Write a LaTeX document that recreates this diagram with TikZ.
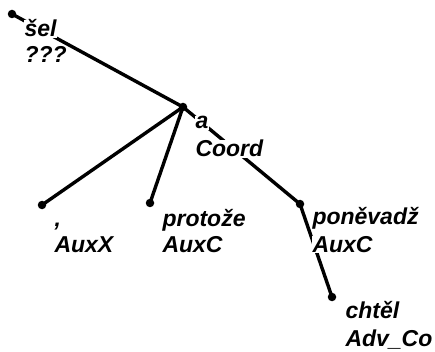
\documentclass[tikz,border=0pt]{standalone}
\usepackage{fontspec}
\setmainfont{Liberation Sans}
\begin{document}
\begin{tikzpicture}[x=1pt,y=-1pt,
  dotnode/.style={circle,fill=black,inner sep=0pt,minimum size=8.5pt},
  edge/.style={line width=3.4pt},
  rowtext/.style={anchor=base west,fill=white,inner sep=0.3pt,
    font=\fontsize{23}{27}\selectfont\bfseries\itshape}]
\useasboundingbox (0,0) rectangle (435,352);
% dots
\node[dotnode] (sel) at (12,14) {};
\node[dotnode] (a) at (183,107) {};
\node[dotnode] (comma) at (42,205) {};
\node[dotnode] (protoze) at (150,203) {};
\node[dotnode] (ponevadz) at (300,204) {};
\node[dotnode] (chtel) at (332,297) {};
% edges
\draw[edge] (sel.center) -- (a.center);
\draw[edge] (a.center) -- (comma.center);
\draw[edge] (a.center) -- (protoze.center);
\draw[edge] (a.center) -- (ponevadz.center);
\draw[edge] (ponevadz.center) -- (chtel.center);
% labels
\node[rowtext] (sel1) at ([shift={(12,23)}]sel.center) {šel};
\node[rowtext] (sel2) at ([shift={(12,49)}]sel.center) {???};
\node[rowtext] (a1) at ([shift={(12,22)}]a.center) {a};
\node[rowtext] (a2) at ([shift={(12,50)}]a.center) {Coord};
\node[rowtext] (comma1) at ([shift={(12,21)}]comma.center) {,};
\node[rowtext] (comma2) at ([shift={(12,47)}]comma.center) {AuxX};
\node[rowtext] (protoze1) at ([shift={(12,23)}]protoze.center) {protože};
\node[rowtext] (protoze2) at ([shift={(12,49)}]protoze.center) {AuxC};
\node[rowtext] (ponevadz1) at ([shift={(12,20)}]ponevadz.center) {poněvadž};
\node[rowtext] (ponevadz2) at ([shift={(12,48)}]ponevadz.center) {AuxC};
\node[rowtext] (chtel1) at ([shift={(13,21)}]chtel.center) {chtěl};
\node[rowtext] (chtel2) at ([shift={(13,49)}]chtel.center) {Adv\_Co};
\end{tikzpicture}
\end{document}
